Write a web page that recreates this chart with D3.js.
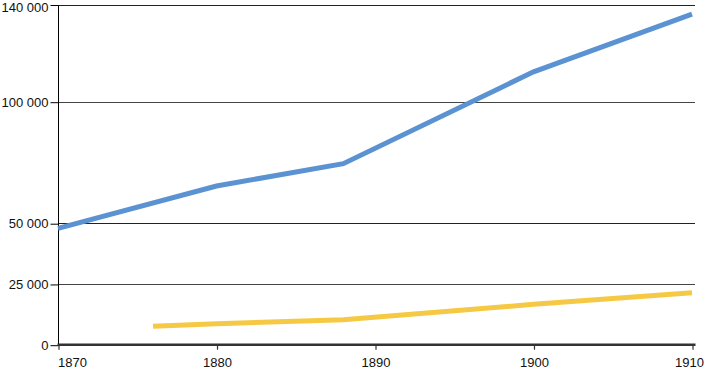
<!DOCTYPE html>
<html>
<head>
<meta charset="utf-8">
<script src="https://cdn.jsdelivr.net/npm/d3@7"></script>
<style>
  body { margin: 0; background: #fff; }
  svg { display: block; font-family: "Open Sans", sans-serif; }
</style>
</head>
<body>
<svg></svg>
<script>
// data
const blueYears = [1870, 1880, 1888, 1900, 1910];
const blueValues = [47900, 65300, 74500, 112300, 136000];
const yellowYears = [1876, 1880, 1888, 1900, 1910];
const yellowValues = [7600, 8600, 10300, 16600, 21400];
const yTicks = [0, 25000, 50000, 100000, 140000];
const xTicks = [1870, 1880, 1890, 1900, 1910];

const WIDTH = 704;
const HEIGHT = 369;

let svg = d3.select('svg').attr('width', WIDTH).attr('height', HEIGHT);

let xScale = d3.scaleLinear().domain([1870, 1910]).range([58, 692]);
let yScale = d3.scaleLinear().domain([0, 140000]).range([344.7, 4.5]);

const fmt = d3.formatLocale({decimal: ',', thousands: ' ', grouping: [3], currency: ['', '']}).format(',d');

// gridlines
svg.append('g').selectAll('line')
  .data(yTicks.filter(d => d > 0))
  .join('line')
  .attr('x1', 58).attr('x2', 695)
  .attr('y1', d => Math.round(yScale(d)) + 0.5)
  .attr('y2', d => Math.round(yScale(d)) + 0.5)
  .style('stroke', (d, i) => i % 2 ? '#222' : '#444')
  .style('stroke-width', 1);

// y axis
let yAxis = svg.append('g')
  .attr('transform', 'translate(58.5,0.5)')
  .call(d3.axisLeft(yScale).tickValues(yTicks).tickSize(8).tickPadding(2).tickFormat(fmt));
yAxis.select('.domain').attr('d', 'M0,' + yScale(140000) + 'V' + yScale(0)).style('stroke', '#000');
yAxis.selectAll('line').style('stroke', '#000');
yAxis.selectAll('text').style('font-size', '13px').style('fill', '#111');
// top label would touch the edge
yAxis.selectAll('text').filter(d => d === 140000).attr('y', 2);

// x axis
let xAxis = svg.append('g')
  .attr('transform', 'translate(0.5,' + yScale(0) + ')')
  .call(d3.axisBottom(xScale).tickValues(xTicks).tickSize(5).tickPadding(8).tickFormat(d3.format('d')));
xAxis.select('.domain').attr('d', 'M57,0H695').style('stroke', '#333').style('stroke-width', 2.5);
xAxis.selectAll('line').style('stroke', '#333').style('stroke-width', 1.2);
xAxis.selectAll('text').style('font-size', '13px').style('fill', '#111');
xAxis.selectAll('text').filter(d => d === 1870).attr('text-anchor', 'start').attr('x', -1);
xAxis.selectAll('text').filter(d => d === 1910).attr('text-anchor', 'end').attr('x', 11);

// lines
let line = d3.line().x(d => xScale(d[0])).y(d => yScale(d[1]));

svg.append('path')
  .datum(d3.zip(yellowYears, yellowValues))
  .attr('d', line)
  .style('fill', 'none')
  .style('stroke', '#f5c944')
  .style('stroke-width', 5);

svg.append('path')
  .datum(d3.zip(blueYears, blueValues))
  .attr('d', line)
  .style('fill', 'none')
  .style('stroke', '#5b93d2')
  .style('stroke-width', 5);
</script>
</body>
</html>
